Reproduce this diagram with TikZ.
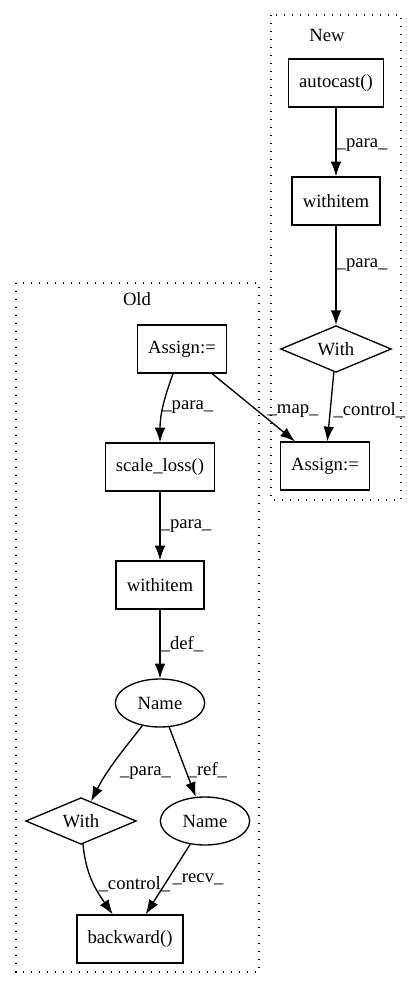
\documentclass[tikz,border=0pt]{standalone}
\usepackage{fontspec}
\setmainfont{Liberation Serif}
\usepackage{tikz}
\usetikzlibrary{arrows.meta}
\usetikzlibrary{shapes.geometric}
\tikzstyle{graph}=[x=0.75pt, y=-0.75pt, line width=1pt, font=\fontsize{14pt}{16pt}\selectfont]
\tikzstyle{box}=[rectangle, draw, inner xsep=8pt, inner ysep=0pt, minimum height=36pt]
\tikzstyle{cond}=[diamond, draw, aspect=2.4, inner sep=0pt, minimum width=83pt, minimum height=35pt]
\tikzstyle{var}=[ellipse, draw, inner sep=0pt, minimum width=67pt, minimum height=36pt]
\tikzstyle{cluster}=[draw, line width=1pt, dash pattern=on 1pt off 5pt]
\tikzstyle{edge}=[-{Latex[length=11pt, width=8pt]}]
\tikzstyle{edgeLabel}=[anchor=west, inner sep=0pt]

\begin{document}
\begin{tikzpicture}[graph]
	\useasboundingbox (0,0) rectangle (417,990);
	\draw[cluster] (271,15) rectangle (401,500);
	\draw[cluster] (16,283) rectangle (259,972);
	\node (lnew) at (327,35) {New};
	\node (lold) at (137,299) {Old};
	\draw (336,83) node[box] (ac) {autocast()};
	\draw (336,201) node[box] (wn) {withitem};
	\draw (336,349) node[cond] (cn) {With};
	\draw (325,466) node[box] (an) {Assign:=};
	\draw (182,349) node[box] (ao) {Assign:=};
	\draw (160,467) node[box] (sl) {scale\_loss()};
	\draw (160,585) node[box] (wo) {withitem};
	\draw (160,703) node[var] (n1) {Name};
	\draw (81,821) node[cond] (co) {With};
	\draw (205,821) node[var] (n2) {Name};
	\draw (130,939) node[box] (bw) {backward()};
	\draw[edge] (ac) -- (wn) node[edgeLabel, pos=0.55] {\_para\_};
	\draw[edge] (wn) -- (cn) node[edgeLabel, pos=0.4] {\_para\_};
	\draw[edge] (cn) -- (an) node[edgeLabel, pos=0.55, xshift=2pt] {\_control\_};
	\draw[edge] (ao) -- (an) node[edgeLabel, pos=0.55, xshift=7pt] {\_map\_};
	\draw[edge] (ao) to[out=-110, in=90] node[edgeLabel, pos=0.5, xshift=-1pt] {\_para\_} (sl);
	\draw[edge] (sl) -- (wo) node[edgeLabel, pos=0.5] {\_para\_};
	\draw[edge] (wo) -- (n1) node[edgeLabel, pos=0.5] {\_def\_};
	\draw[edge] (n1) to[out=-128, in=63] node[edgeLabel, pos=0.65, xshift=9pt] {\_para\_} (co);
	\draw[edge] (n1) -- (n2) node[edgeLabel, pos=0.62, xshift=1pt] {\_ref\_};
	\draw[edge] (co) to[out=-85, in=125] node[edgeLabel, pos=0.55, xshift=3pt] {\_control\_} (bw);
	\draw[edge] (n2) -- (bw) node[edgeLabel, pos=0.5, xshift=3pt] {\_recv\_};
\end{tikzpicture}
\end{document}
